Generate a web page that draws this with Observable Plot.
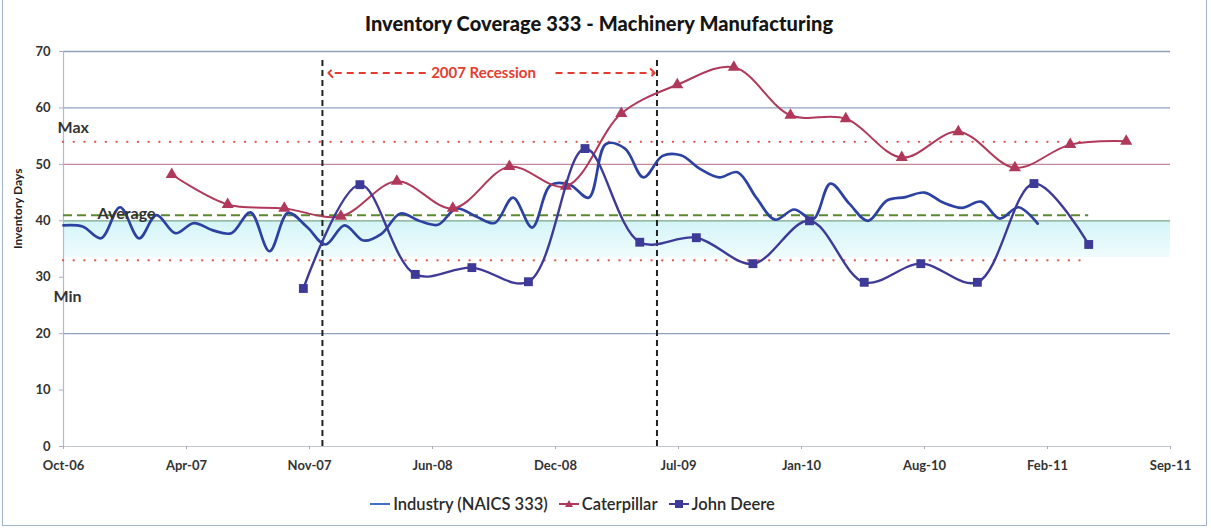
<!DOCTYPE html>
<html>
<head>
<meta charset="utf-8">
<script src="https://cdn.jsdelivr.net/npm/d3@7"></script>
<script src="https://cdn.jsdelivr.net/npm/@observablehq/plot@0.6"></script>
<style>
  html, body { margin: 0; padding: 0; background: #fff; }
  body { width: 1211px; height: 531px; position: relative; overflow: hidden; font-family: Lato, sans-serif; }
  #frame { position: absolute; left: 2px; top: -2px; width: 1205px; height: 528px; border: 1px solid #a3b3ca; box-sizing: border-box; }
  #title { position: absolute; top: 11px; left: 0; width: 1198px; text-align: center; font-weight: 900; font-size: 20px; color: #151515; letter-spacing: 0.1px; }
  #chart { position: absolute; top: 40px; left: 0; }
  #legend { position: absolute; top: 494px; left: 0; width: 1144px; display: flex; justify-content: center; align-items: center; font-size: 16.5px; font-weight: 600; color: #2a2a2a; gap: 10px; }
  #legend .item { display: flex; align-items: center; gap: 2px; }
</style>
</head>
<body>
<div id="frame"></div>
<div id="title">Inventory Coverage 333 - Machinery Manufacturing</div>
<div id="chart"></div>
<div id="legend"></div>
<script>
// ---------- data ----------
const seriesNames = ["Industry (NAICS 333)", "Caterpillar", "John Deere"];

// Industry (NAICS 333): monthly, Oct-06 .. Feb-11
const industryStart = "2006-10-06";
const industryValues = [
  39.2, 39.0, 36.9, 42.4, 36.9, 41.0, 37.8, 39.6, 38.3, 37.8, 41.5, 34.6,
  41.4, 38.9, 35.8, 39.2, 36.5, 37.7, 41.3, 40.0, 39.3, 42.2, 40.8, 39.6,
  44.1, 38.8, 46.3, 46.4, 44.1, 53.6, 52.8, 47.7, 51.5, 51.6, 49.2, 47.7,
  48.6, 44.0, 40.2, 42.0, 40.3, 46.6, 43.0, 40.0, 43.6, 44.2, 45.0, 43.2,
  42.3, 43.4, 40.4, 42.4, 39.5
];

// Caterpillar: quarterly
const catDates = [
  "2007-03-31", "2007-06-30", "2007-09-30", "2007-12-31", "2008-03-31", "2008-06-30",
  "2008-09-30", "2008-12-31", "2009-03-31", "2009-06-30", "2009-09-30", "2009-12-31",
  "2010-03-31", "2010-06-30", "2010-09-30", "2010-12-31", "2011-03-31", "2011-06-30"
];
const catValues = [48.2, 42.9, 42.2, 40.8, 47.0, 42.2, 49.6, 46.1, 59.0, 64.1, 67.2, 58.7, 58.1, 51.2, 55.8, 49.4, 53.5, 54.1];

// John Deere: fiscal quarters
const deereDates = [
  "2007-10-31", "2008-01-31", "2008-04-30", "2008-07-31", "2008-10-31", "2009-01-31",
  "2009-04-30", "2009-07-31", "2009-10-31", "2010-01-31", "2010-04-30", "2010-07-31",
  "2010-10-31", "2011-01-31", "2011-04-30"
];
const deereValues = [28.0, 46.4, 30.5, 31.7, 29.2, 52.8, 36.2, 37.0, 32.4, 40.0, 29.1, 32.4, 29.1, 46.6, 35.8];

// reference levels
const maxLevel = 54;
const avgLevel = 41;
const minLevel = 33;
const bandTop = 40;
const bandBottom = 33.5;
const referenceEnd = "2011-04-30";

// recession
const recessionDates = ["2007-12-01", "2009-05-28"];
const recessionLabel = "2007 Recession";

// axes
const tickLabels = ["Oct-06", "Apr-07", "Nov-07", "Jun-08", "Dec-08", "Jul-09", "Jan-10", "Aug-10", "Feb-11", "Sep-11"];
const yTicks = [0, 10, 20, 30, 40, 50, 60, 70];

// colors
const cIndustry = "#2c42a3";
const cCat = "#b0395b";
const cDeere = "#3e3a97";

// ---------- build ----------
const x0 = new Date(industryStart);
const x1 = d3.utcDay.offset(x0, 1800);
const tickDates = tickLabels.map((_, i) => d3.utcDay.offset(x0, 200 * i));
const labelMap = new Map(tickDates.map((d, i) => [+d, tickLabels[i]]));

const industry = industryValues.map((v, k) => ({date: d3.utcMonth.offset(x0, k), value: v}));
const cat = catDates.map((d, i) => ({date: new Date(d), value: catValues[i]}));
const deere = deereDates.map((d, i) => ({date: new Date(d), value: deereValues[i]}));
const recession = recessionDates.map(d => new Date(d));
const refEnd = new Date(referenceEnd);

const chart = Plot.plot({
  width: 1211,
  height: 440,
  marginLeft: 63,
  marginRight: 41,
  marginTop: 11,
  marginBottom: 34,
  style: {fontFamily: "Lato, sans-serif", fontWeight: "bold", fontSize: "13px", color: "#333", background: "transparent", overflow: "visible"},
  x: {type: "utc", domain: [x0, x1]},
  y: {domain: [0, 70]},
  marks: [
    // cyan band
    Plot.areaY([x0, x1], {x: d => d, y1: bandBottom, y2: bandTop, fill: "url(#bandGrad)"}),
    // gridlines
    Plot.ruleY([20, 60, 70], {stroke: "#8ea2bf", strokeWidth: 1.3}),
    Plot.ruleY([50], {stroke: "#c4899a", strokeWidth: 1.3}),
    Plot.ruleY([bandTop], {stroke: "#7ea886", strokeWidth: 1.3}),
    Plot.ruleY([0], {stroke: "#c3c8d0", strokeWidth: 1.2}),
    Plot.ruleX([x0], {stroke: "#a9bada", strokeWidth: 1.2}),
    // reference lines
    Plot.ruleY([maxLevel, minLevel], {x1: () => x0, x2: () => refEnd, stroke: "#e2544c", strokeWidth: 2.3, strokeDasharray: "0.1,10.6", strokeLinecap: "round"}),
    Plot.ruleY([avgLevel], {x1: () => x0, x2: () => refEnd, stroke: "#5a8a30", strokeWidth: 2, strokeDasharray: "9,5"}),
    // axes
    Plot.axisX({ticks: tickDates, tickFormat: d => labelMap.get(+d), tickSize: 3, tickPadding: 11, stroke: "#aab", fill: "#333", label: null, fontSize: 13}),
    Plot.axisY({ticks: yTicks, tickSize: 4, tickPadding: 9, stroke: "#aab", fill: "#333", label: null, fontSize: 13}),
    Plot.text(["Inventory Days"], {frameAnchor: "left", text: d => d, rotate: -90, dx: -45, fontSize: 12, fill: "#222"}),
    // recession
    Plot.ruleX(recession, {y1: 0, y2: 68.8, stroke: "#222", strokeWidth: 2, strokeDasharray: "6,4"}),
    Plot.link([[new Date("2008-05-17"), new Date("2007-12-14")], [new Date("2008-12-14"), new Date("2009-05-21")]], {
      x1: d => d[0], x2: d => d[1], y1: 66.2, y2: 66.2, stroke: "#e43d30", strokeWidth: 2, strokeDasharray: "7,5", markerEnd: "arrow"
    }),
    Plot.text([recessionLabel], {x: () => new Date("2008-08-19"), y: 66.2, text: d => d, fill: "#e43d30", fontSize: 15}),
    // series
    Plot.line(industry, {x: "date", y: "value", stroke: cIndustry, strokeWidth: 2.7, curve: "catmull-rom"}),
    Plot.line(cat, {x: "date", y: "value", stroke: cCat, strokeWidth: 2, curve: "catmull-rom"}),
    Plot.dot(cat, {x: "date", y: "value", symbol: "triangle", r: 4.5, fill: cCat}),
    Plot.line(deere, {x: "date", y: "value", stroke: cDeere, strokeWidth: 2.4, curve: "catmull-rom"}),
    Plot.dot(deere, {x: "date", y: "value", symbol: "square", r: 5, fill: cDeere}),
    // level labels
    Plot.text(["Max"], {x: () => x0, y: 56.5, text: d => d, textAnchor: "start", dx: -6, fontSize: 16, fill: "#333"}),
    Plot.text(["Average"], {x: () => x0, y: 41.3, text: d => d, textAnchor: "start", dx: 34, fontSize: 16, fill: "#333"}),
    Plot.text(["Min"], {x: () => x0, y: 26.6, text: d => d, textAnchor: "start", dx: -10, fontSize: 16, fill: "#333"})
  ]
});

// gradient for the cyan band
const ns = "http://www.w3.org/2000/svg";
const defs = document.createElementNS(ns, "defs");
defs.innerHTML = `<linearGradient id="bandGrad" x1="0" y1="0" x2="0" y2="1">
  <stop offset="0%" stop-color="#d3f4f8"/>
  <stop offset="100%" stop-color="#f0fcfd"/>
</linearGradient>`;
chart.insertBefore(defs, chart.firstChild);
document.getElementById("chart").appendChild(chart);

// legend
const legend = document.getElementById("legend");
const swatches = [
  `<svg width="22" height="12"><line x1="1" x2="21" y1="6" y2="6" stroke="#3f6fcf" stroke-width="2"/></svg>`,
  `<svg width="22" height="12"><line x1="1" x2="21" y1="6" y2="6" stroke="${cCat}" stroke-width="2"/><path d="M11,2 L15,9 L7,9 Z" fill="${cCat}"/></svg>`,
  `<svg width="22" height="12"><line x1="1" x2="21" y1="6" y2="6" stroke="${cDeere}" stroke-width="2"/><rect x="7" y="2" width="8" height="8" fill="${cDeere}"/></svg>`
];
seriesNames.forEach((name, i) => {
  const item = document.createElement("div");
  item.className = "item";
  item.innerHTML = swatches[i] + `<span>${name}</span>`;
  legend.appendChild(item);
});
</script>
</body>
</html>
